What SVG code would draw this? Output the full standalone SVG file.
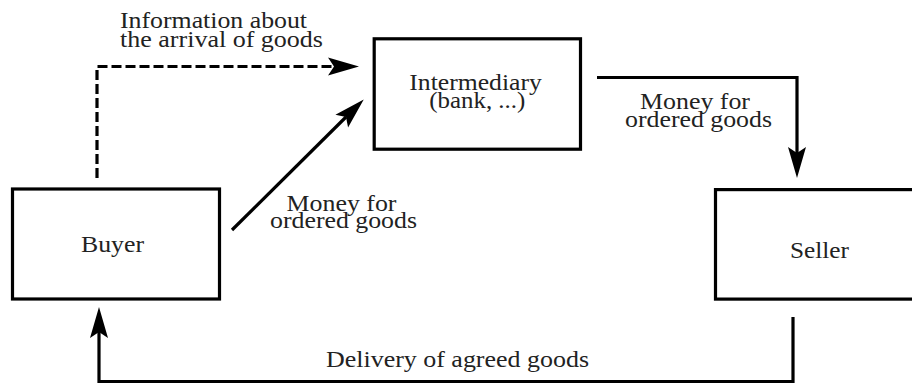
<svg xmlns="http://www.w3.org/2000/svg" width="912" height="385" viewBox="0 0 912 385">
<style>
.box{fill:#fff;stroke:#000;stroke-width:3.2}
.t{font-family:"Liberation Serif","Times New Roman",serif;font-size:24px;fill:#222}
.c{fill:none;stroke:#000;stroke-width:3.2}
.d{stroke-dasharray:10,4}
</style>
<defs>
<marker id="ah" markerUnits="userSpaceOnUse" markerWidth="40" markerHeight="24" viewBox="-2 -12 40 24" refX="6" refY="0" orient="auto" overflow="visible">
<path d="M0,-9 L31,0 L0,9 L6,0 Z" fill="#000"/>
</marker>
</defs>
<rect width="912" height="385" fill="#fff"/>
<g id="connectors">
<path class="c d" d="M97,178 V66.5 H334" marker-end="url(#ah)"/>
<path class="c" d="M232,230 L346,117" marker-end="url(#ah)"/>
<path class="c" d="M597,77.5 H797 V153" marker-end="url(#ah)"/>
<path class="c" d="M793,317 V381.5 H99 V332" marker-end="url(#ah)"/>
<text class="t" x="120" y="28.3" textLength="187" lengthAdjust="spacingAndGlyphs">Information about</text>
<text class="t" x="120" y="46.7" textLength="203" lengthAdjust="spacingAndGlyphs">the arrival of goods</text>
<text class="t" x="286.5" y="210.5" textLength="110" lengthAdjust="spacingAndGlyphs">Money for</text>
<text class="t" x="270" y="227.5" textLength="147" lengthAdjust="spacingAndGlyphs">ordered goods</text>
<text class="t" x="640" y="109" textLength="110" lengthAdjust="spacingAndGlyphs">Money for</text>
<text class="t" x="625" y="126.7" textLength="147" lengthAdjust="spacingAndGlyphs">ordered goods</text>
<text class="t" x="326" y="367.3" textLength="263" lengthAdjust="spacingAndGlyphs">Delivery of agreed goods</text>
</g>
<g id="intermediary">
<rect class="box" x="374.2" y="38.8" width="206.3" height="110.4"/>
<text class="t" x="409.3" y="90" textLength="132.5" lengthAdjust="spacingAndGlyphs">Intermediary</text>
<text class="t" x="429.3" y="107.7" textLength="96" lengthAdjust="spacingAndGlyphs">(bank, ...)</text>
</g>
<g id="buyer">
<rect class="box" x="12.5" y="189" width="207" height="110"/>
<text class="t" x="81" y="251.7" textLength="63" lengthAdjust="spacingAndGlyphs">Buyer</text>
</g>
<g id="seller">
<rect class="box" x="715.5" y="189.6" width="230" height="109.5"/>
<text class="t" x="790" y="258.3" textLength="59" lengthAdjust="spacingAndGlyphs">Seller</text>
</g>
</svg>
